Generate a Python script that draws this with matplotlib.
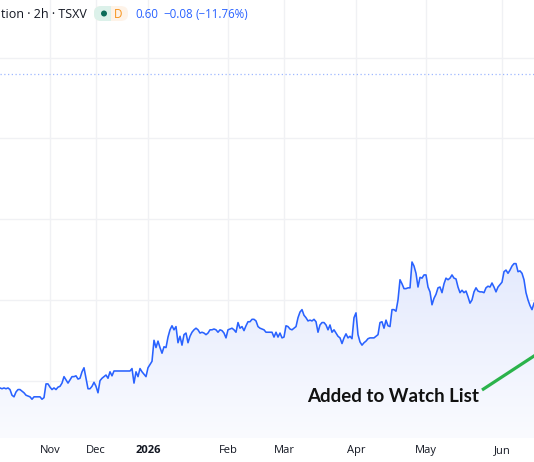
import numpy as np
import matplotlib.pyplot as plt
from matplotlib.colors import LinearSegmentedColormap
from matplotlib.patches import FancyBboxPatch, Ellipse, Rectangle
from matplotlib.lines import Line2D

# 2h closes, one value per bar
price = [
    0.391, 0.390, 0.391, 0.390, 0.391, 0.389, 0.382, 0.380, 0.386, 0.389,
    0.389, 0.387, 0.385, 0.382, 0.381, 0.380, 0.377, 0.380, 0.380, 0.380,
    0.380, 0.377, 0.379, 0.396, 0.396, 0.392, 0.389, 0.391, 0.389, 0.392,
    0.393, 0.397, 0.405, 0.401, 0.397, 0.401, 0.405, 0.405, 0.406, 0.402,
    0.403, 0.411, 0.416, 0.403, 0.390, 0.390, 0.393, 0.398, 0.393, 0.385,
    0.400, 0.403, 0.405, 0.407, 0.403, 0.411, 0.406, 0.412, 0.412, 0.412,
    0.412, 0.412, 0.412, 0.412, 0.412, 0.412, 0.415, 0.397, 0.411, 0.405,
    0.415, 0.411, 0.408, 0.405, 0.416, 0.420, 0.424, 0.450, 0.441, 0.449,
    0.441, 0.434, 0.442, 0.441, 0.454, 0.463, 0.468, 0.463, 0.467, 0.447,
    0.455, 0.444, 0.457, 0.459, 0.447, 0.455, 0.460, 0.463, 0.465, 0.463,
    0.459, 0.460, 0.459, 0.457, 0.459, 0.463, 0.463, 0.464, 0.463, 0.460,
    0.463, 0.462, 0.459, 0.453, 0.463, 0.464, 0.465, 0.463, 0.460, 0.472,
    0.465, 0.467, 0.462, 0.468, 0.473, 0.473, 0.476, 0.476, 0.474, 0.467,
    0.465, 0.464, 0.463, 0.460, 0.460, 0.460, 0.460, 0.454, 0.460, 0.454,
    0.459, 0.453, 0.454, 0.468, 0.467, 0.464, 0.463, 0.465, 0.467, 0.478,
    0.485, 0.488, 0.481, 0.478, 0.474, 0.475, 0.474, 0.476, 0.473, 0.460,
    0.469, 0.472, 0.472, 0.469, 0.463, 0.469, 0.460, 0.463, 0.459, 0.455,
    0.453, 0.446, 0.453, 0.458, 0.453, 0.455, 0.452, 0.478, 0.484, 0.457,
    0.448, 0.444, 0.447, 0.449, 0.452, 0.453, 0.453, 0.453, 0.455, 0.457,
    0.472, 0.473, 0.465, 0.475, 0.468, 0.467, 0.488, 0.488, 0.486, 0.500,
    0.525, 0.520, 0.514, 0.514, 0.515, 0.515, 0.547, 0.542, 0.533, 0.516,
    0.528, 0.527, 0.531, 0.531, 0.516, 0.510, 0.494, 0.502, 0.507, 0.515,
    0.516, 0.509, 0.520, 0.527, 0.525, 0.527, 0.531, 0.527, 0.526, 0.516,
    0.509, 0.512, 0.509, 0.511, 0.504, 0.496, 0.500, 0.510, 0.515, 0.511,
    0.510, 0.510, 0.509, 0.515, 0.517, 0.516, 0.521, 0.516, 0.510, 0.516,
    0.519, 0.522, 0.535, 0.537, 0.533, 0.537, 0.542, 0.545, 0.545, 0.535,
    0.536, 0.533, 0.525, 0.509, 0.500, 0.493, 0.488, 0.496,
]

month_labels = ['Nov', 'Dec', '2026', 'Feb', 'Mar', 'Apr', 'May', 'Jun']
month_bar = [25, 48, 74, 114, 142, 178, 213, 251]   # bar index where month starts
grid_levels = [0.4, 0.5, 0.6, 0.7, 0.8]
dotted_level = 0.78

symbol_tail = 'tion · 2h · TSXV'
last_close = 0.60
change = -0.08
change_pct = -11.76

W, H = 534, 462
blue = '#2962ff'
ui_font = ['Open Sans', 'DejaVu Sans']

fig = plt.figure(figsize=(W / 100, H / 100), dpi=100)
fig.patch.set_facecolor('white')
ax = fig.add_axes([0, 24 / H, 1, 438 / H])

x = np.arange(len(price))
ylo, yhi = 0.329, 0.8715

# gradient area under the line
poly = ax.fill_between(x, price, ylo, color='none', lw=0)
cmap = LinearSegmentedColormap.from_list('area', ['#fafbff', '#e4eafd'])
grad = np.linspace(0, 1, 256).reshape(-1, 1)
im = ax.imshow(grad, extent=[0, len(price) - 1, ylo, max(price)], origin='lower',
               cmap=cmap, aspect='auto', zorder=1)
im.set_clip_path(poly.get_paths()[0], transform=ax.transData)

ax.plot(x, price, color=blue, lw=1.15, zorder=3)
ax.axhline(dotted_level, color=blue, lw=0.9, ls=(0, (1, 2)), alpha=0.45, zorder=2)

ax.set_xlim(0, len(price) - 1)
ax.set_ylim(ylo, yhi)
ax.set_yticks(grid_levels)
ax.set_xticks(month_bar)
ax.set_xticklabels(month_labels)
for lab in ax.get_xticklabels():
    lab.set_color('#131722')
    lab.set_fontsize(8)
    lab.set_family(ui_font)
    if lab.get_text() == '2026':
        lab.set_fontweight('bold')
ax.tick_params(axis='both', length=0, labelleft=False, pad=5)
ax.grid(color='#f0f1f4', lw=1, zorder=0)
ax.set_axisbelow(True)
for s in ax.spines.values():
    s.set_visible(False)
ax.set_facecolor('white')


def fx(px):
    return px / W


def fy(py):
    return 1 - py / H


# header
fig.text(fx(87), fy(14), symbol_tail, ha='right', va='center', fontsize=9,
         color='#131722', family=ui_font)

pill_r = FancyBboxPatch((fx(94), fy(21)), fx(34), 15 / H, boxstyle='round,pad=0,rounding_size=0.014',
                        transform=fig.transFigure, fc='#fef3e8', ec='none')
fig.add_artist(pill_r)
pill_l = FancyBboxPatch((fx(94), fy(21)), fx(34), 15 / H, boxstyle='round,pad=0,rounding_size=0.014',
                        transform=fig.transFigure, fc='#dcf1ea', ec='none')
fig.add_artist(pill_l)
pill_l.set_clip_path(Rectangle((fx(90), fy(25)), fx(21), 25 / H, transform=fig.transFigure))
fig.add_artist(Ellipse((fx(104), fy(13.5)), 6 / W, 6 / H, transform=fig.transFigure,
                       fc='#0b6b58', ec='none'))
fig.text(fx(118), fy(14), 'D', ha='center', va='center', fontsize=8.5, color='#f7931a',
         family=ui_font)

val_col = blue
fig.text(fx(135), fy(14), f'{last_close:.2f}', ha='left', va='center', fontsize=8.3,
         color=val_col, family=ui_font)
fig.text(fx(163), fy(14), f'{change:.2f}'.replace('-', '\u2212'), ha='left', va='center',
         fontsize=8.3, color=val_col, family=ui_font)
fig.text(fx(195), fy(14), f'({change_pct:.2f}%)'.replace('-', '\u2212'), ha='left', va='center',
         fontsize=8.3, color=val_col, family=ui_font)

# annotation
fig.text(fx(479), fy(397), 'Added to Watch List', ha='right', va='center', fontsize=13.5,
         fontweight='bold', family='Lato', color='#111111')
fig.add_artist(Line2D([fx(482), fx(545)], [fy(390), fy(390 - 63 * 34 / 52)],
                      transform=fig.transFigure, color='#2bb34b', lw=2.3,
                      solid_capstyle='butt'))

fig.savefig('out.png', dpi=100)
